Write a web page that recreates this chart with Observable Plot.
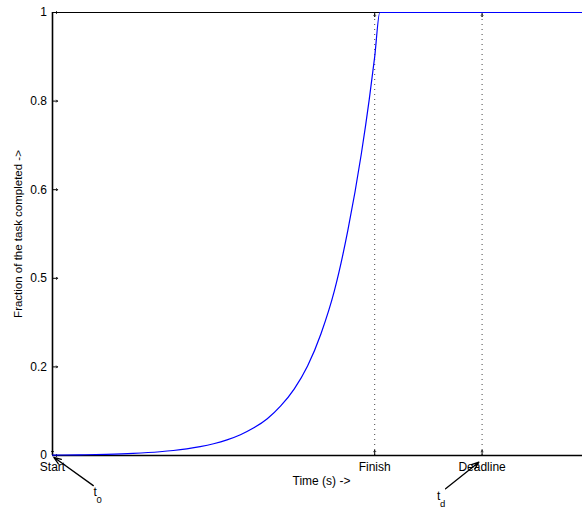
<!DOCTYPE html>
<html><head><meta charset="utf-8">
<script src="https://cdn.jsdelivr.net/npm/d3@7"></script>
<script src="https://cdn.jsdelivr.net/npm/@observablehq/plot@0.6"></script>
<style>body{margin:0;background:#fff} svg{display:block}</style>
</head><body><div id="chart"></div>
<script>
// Curve: fraction of task completed vs time
const timeValues     = [0, 0.5, 1.0, 1.5, 2.0, 2.25, 2.5, 2.75, 3.0, 3.25, 3.5, 3.75, 4.0, 4.25, 4.5, 4.75, 5.0, 5.25, 5.5, 5.75, 5.9, 6.0, 6.095, 9.87];
const fractionValues = [0.0009, 0.0015, 0.0027, 0.0048, 0.0085, 0.0113, 0.015, 0.0199, 0.0265, 0.0353, 0.047, 0.0624, 0.083, 0.112, 0.15, 0.202, 0.275, 0.372, 0.508, 0.68, 0.805, 0.90, 1.0, 1.0];

const xDomain = [0, 9.87];
const xTickValues = [0, 6, 8];
const xTickLabels = ["Start", "Finish", "Deadline"];
const yTickValues = [0, 0.2, 0.4, 0.6, 0.8, 1];
const yTickLabels = ["0", "0.2", "0.5", "0.6", "0.8", "1"];
const markerTimes = [6, 8];

// Annotations t0 and td (arrows below the axis)
const annLabels = ["t", "t"];
const annSubs   = ["0", "d"];
const annTextT  = [0.795, 7.19];
const annTextV  = [-0.0835, -0.0926];
const arrowT1 = [0.76, 7.32];
const arrowV1 = [-0.068, -0.075];
const arrowT2 = [0.025, 7.94];
const arrowV2 = [-0.004, -0.015];

const curve = timeValues.map((t, i) => ({t, v: fractionValues[i]}));
const ann = annLabels.map((l, i) => ({l, s: annSubs[i], t: annTextT[i], v: annTextV[i],
  ax1: arrowT1[i], ay1: arrowV1[i], ax2: arrowT2[i], ay2: arrowV2[i]}));

const font = "'Liberation Sans', Arial, Helvetica, sans-serif";

const chart = Plot.plot({
  width: 582,
  height: 508,
  marginLeft: 52,
  marginRight: 0,
  marginTop: 12,
  marginBottom: 53,
  style: {fontFamily: font, color: "black", background: "white", overflow: "visible"},
  x: {domain: xDomain},
  y: {domain: [0, 1]},
  marks: [
    // dotted markers
    Plot.ruleX(markerTimes, {y1: 0, y2: 1, stroke: "#444", strokeWidth: 1, strokeDasharray: "1,4"}),
    // box lines
    Plot.ruleY([1], {stroke: "black", strokeWidth: 1.2}),
    Plot.ruleY([0], {stroke: "black", strokeWidth: 1.6}),
    Plot.ruleX([0], {y1: 0, y2: 1, stroke: "black", strokeWidth: 1.6}),
    // inward ticks
    Plot.vector(yTickValues, {x: 0, y: d => d, length: 5, rotate: 90, anchor: "start", stroke: "black", strokeWidth: 1}),
    Plot.vector(xTickValues, {x: d => d, y: 0, length: 5, rotate: 0, anchor: "start", stroke: "black", strokeWidth: 1}),
    Plot.vector(markerTimes, {x: d => d, y: 1, length: 4, rotate: 180, anchor: "start", stroke: "black", strokeWidth: 1}),
    // axes labels
    Plot.axisY({ticks: yTickValues, tickFormat: d => yTickLabels[yTickValues.indexOf(d)], tickSize: 0, tickPadding: 5.5, fontSize: 12, label: null}),
    Plot.axisX({ticks: xTickValues, tickFormat: d => xTickLabels[xTickValues.indexOf(d)], tickSize: 0, tickPadding: 7, fontSize: 12, label: null}),
    // curve
    Plot.line(curve, {x: "t", y: "v", stroke: "#0000ff", strokeWidth: 1.2, curve: "monotone-x"}),
    // titles
    Plot.text(["Time (s) ->"], {frameAnchor: "bottom", dx: 4, dy: 29, fontSize: 12, fill: "black"}),
    Plot.text(["Fraction of the task completed ->"], {frameAnchor: "left", textAnchor: "middle", dx: -34, rotate: -90, fontSize: 11.5, fill: "black"}),
    // annotations
    Plot.arrow(ann, {x1: "ax1", y1: "ay1", x2: "ax2", y2: "ay2", stroke: "black", strokeWidth: 1.3, headLength: 9, headAngle: 40}),
    Plot.text(ann, {x: "t", y: "v", text: "l", fontSize: 12, fill: "black"}),
    Plot.text(ann, {x: "t", y: "v", text: "s", fontSize: 9.5, dx: 4, dy: 7.5, fill: "black"})
  ]
});
document.getElementById("chart").appendChild(chart);
</script>
</body></html>
